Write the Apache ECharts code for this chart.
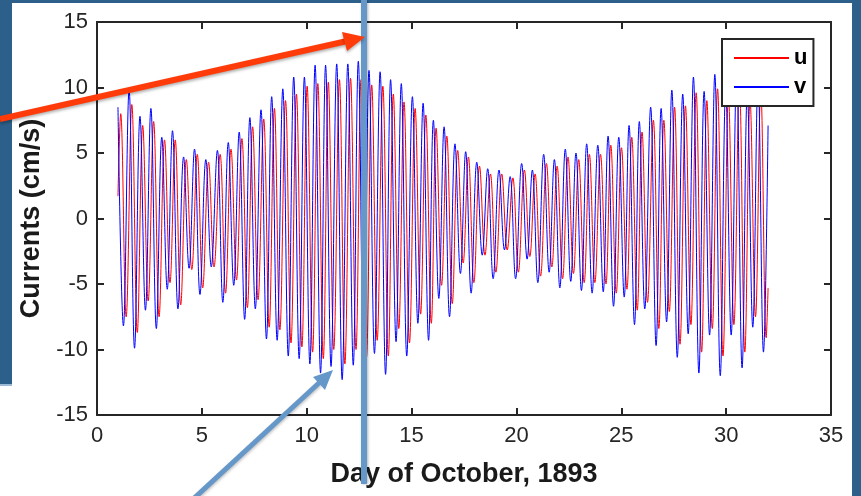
<!DOCTYPE html>
<html>
<head>
<meta charset="utf-8">
<title>Currents</title>
<script src="https://cdn.jsdelivr.net/npm/echarts@6/dist/echarts.min.js"></script>
<style>
	html, body { margin: 0; padding: 0; background: #fff; }
	#chart { width: 861px; height: 496px; }
</style>
</head>
<body>
<div id="chart"></div>
<script>
// axis ticks
var xTicks = [0, 5, 10, 15, 20, 25, 30, 35];
var yTicks = [-15, -10, -5, 0, 5, 10, 15];

// day of each v high water
var vPeakDay = [1.00, 1.53, 2.05, 2.57, 3.09, 3.60, 4.13, 4.65, 5.19, 5.74,
	6.26, 6.78, 7.29, 7.82, 8.33, 8.86, 9.38, 9.89, 10.40,
	10.90, 11.43, 11.96, 12.46, 12.97, 13.50, 14.00, 14.51, 15.04, 15.55,
	16.04, 16.55, 17.07, 17.58, 18.11, 18.63, 19.17, 19.70, 20.25, 20.76,
	21.30, 21.81, 22.33, 22.84, 23.35, 23.88, 24.37, 24.88, 25.37, 25.86,
	26.40, 26.90, 27.41, 27.93, 28.44, 28.95, 29.46, 29.98, 30.50, 31.01, 31.52];

// v (blue) highs and lows, one per tidal cycle
var vPeak = [8.5, 9.8, 7.8, 8.4, 6.2, 6.7, 4.7, 5.3, 4.5, 5.2,
	5.8, 6.6, 7.7, 8.3, 9.3, 9.9, 10.8, 10.8, 11.7,
	11.7, 11.8, 11.8, 12.0, 11.3, 11.2, 10.6, 10.3, 9.3, 8.8,
	7.5, 7.0, 5.7, 5.1, 4.3, 3.8, 3.7, 3.2, 4.2, 3.7,
	4.9, 4.5, 5.3, 5.0, 5.7, 5.6, 6.3, 6.2, 7.1, 7.4,
	8.5, 8.4, 9.8, 9.5, 10.8, 9.7, 11.0, 9.8, 11.2, 9.6, 10.6];
var vTrough = [-8.2, -9.9, -7.0, -8.4, -5.4, -6.9, -3.8, -5.8, -3.7, -6.4,
	-5.1, -7.7, -6.9, -9.2, -9.3, -10.5, -10.7, -11.1, -11.8,
	-11.3, -12.3, -11.2, -11.6, -10.3, -11.9, -9.4, -10.5, -8.0, -9.3,
	-6.1, -7.5, -4.2, -5.7, -2.8, -4.6, -2.4, -4.6, -3.1, -4.9,
	-4.1, -5.3, -4.8, -5.5, -5.7, -5.6, -6.7, -6.0, -8.1, -6.9,
	-9.7, -7.9, -10.6, -8.8, -11.8, -8.9, -12.0, -8.9, -11.4, -8.3, -10.2];

// u (red) highs and lows
var uPeak = [8.0, 8.7, 7.1, 7.4, 6.0, 6.0, 4.5, 4.9, 4.3, 4.9,
	5.3, 6.1, 7.0, 7.6, 8.4, 9.0, 9.5, 10.1, 10.3,
	10.4, 10.6, 10.7, 10.6, 10.2, 10.1, 9.5, 8.9, 8.4, 7.9,
	6.9, 6.3, 5.2, 4.7, 4.0, 3.4, 3.4, 3.1, 3.7, 3.4,
	4.2, 4.0, 4.7, 4.5, 4.9, 4.9, 5.6, 5.4, 6.2, 6.6,
	7.5, 7.5, 8.5, 8.6, 9.6, 9.0, 9.9, 9.3, 10.3, 9.0, 9.8];
var uTrough = [-7.5, -8.7, -6.3, -7.5, -4.9, -6.6, -3.9, -5.3, -3.7, -5.7,
	-4.7, -6.8, -6.2, -8.3, -8.5, -9.5, -9.8, -10.2, -10.7,
	-10.0, -11.1, -10.0, -10.6, -9.3, -10.5, -8.4, -9.5, -7.3, -8.0,
	-5.1, -6.5, -3.4, -4.9, -2.8, -4.1, -2.4, -4.1, -2.9, -4.4,
	-3.7, -4.6, -4.2, -4.9, -4.9, -5.0, -5.7, -5.4, -7.0, -6.4,
	-8.4, -7.1, -9.6, -8.1, -10.2, -8.4, -10.5, -8.1, -10.2, -7.5, -9.1];

// first / last samples
var uStart = [1.0, 1.7], uEnd = [32.0, -5.3];
var vEnd = [32.0, 7.1];

// time from high to low, and u behind v (days)
var halfCycle = 0.26;
var uLag = 0.13;

var uData = [uStart], vData = [];
for (var i = 0; i < vPeakDay.length; i++) {
	vData.push([vPeakDay[i], vPeak[i]]);
	vData.push([vPeakDay[i] + halfCycle, vTrough[i]]);
	uData.push([vPeakDay[i] + uLag, uPeak[i]]);
	uData.push([vPeakDay[i] + uLag + halfCycle, uTrough[i]]);
}
vData.push(vEnd);
uData.push(uEnd);

var dom = document.getElementById('chart');
var myChart = echarts.init(dom);

var axisColor = '#262626';
var slideBlue = '#2c5f8a';
var pointerBlue = '#6697c9';

// box style axis (ticks inside, all four sides)
var boxAxis = {
	type: 'value',
	axisLine: { show: true, onZero: false, lineStyle: { color: axisColor, width: 2 } },
	axisTick: { show: true, inside: true, length: 7, lineStyle: { color: axisColor, width: 2 } },
	axisLabel: { show: false },
	splitLine: { show: false }
};
var titleFont = { fontFamily: 'Liberation Sans', fontWeight: 'bold', fontSize: 27, color: '#1a1a1a' };
var labelFont = { fontFamily: 'Liberation Sans', fontSize: 22, color: axisColor };

var option = {
	backgroundColor: '#fff',
	animation: false,
	grid: { left: 97, right: 30, top: 22, bottom: 81 },
	xAxis: [
		Object.assign({}, boxAxis, {
			min: xTicks[0], max: xTicks[xTicks.length - 1], interval: 5,
			position: 'bottom',
			name: 'Day of October, 1893',
			nameLocation: 'middle',
			nameGap: 46,
			nameTextStyle: titleFont,
			axisLabel: Object.assign({ show: true, margin: 10 }, labelFont)
		}),
		Object.assign({}, boxAxis, {
			min: xTicks[0], max: xTicks[xTicks.length - 1], interval: 5,
			position: 'top'
		})
	],
	yAxis: [
		Object.assign({}, boxAxis, {
			min: yTicks[0], max: yTicks[yTicks.length - 1], interval: 5,
			position: 'left',
			name: 'Currents (cm/s)',
			nameLocation: 'middle',
			nameGap: 47,
			nameTextStyle: titleFont,
			axisLabel: Object.assign({ show: true, margin: 9 }, labelFont)
		}),
		Object.assign({}, boxAxis, {
			min: yTicks[0], max: yTicks[yTicks.length - 1], interval: 5,
			position: 'right'
		})
	],
	legend: {
		orient: 'vertical',
		left: 722,
		top: 39,
		backgroundColor: '#fff',
		borderColor: axisColor,
		borderWidth: 2,
		borderRadius: 0,
		padding: [8, 6, 8, 11],
		itemWidth: 55,
		itemHeight: 14,
		itemGap: 7,
		itemStyle: { opacity: 0 },
		textStyle: { fontFamily: 'Liberation Sans', fontWeight: 'bold', fontSize: 22, color: '#000' },
		data: ['u', 'v']
	},
	series: [
		{
			name: 'u',
			type: 'line',
			data: uData,
			symbol: 'none',
			smooth: 0.4,
			lineStyle: { color: '#ff0000', width: 1 },
			itemStyle: { color: '#ff0000' }
		},
		{
			name: 'v',
			type: 'line',
			data: vData,
			symbol: 'none',
			smooth: 0.4,
			lineStyle: { color: '#0000ff', width: 1 },
			itemStyle: { color: '#0000ff' }
		}
	],
	// slide background and pointers drawn over the figure
	graphic: [
		{ type: 'rect', z: 50, shape: { x: 0, y: 0, width: 861, height: 3 }, style: { fill: slideBlue } },
		{ type: 'rect', z: 50, shape: { x: 0, y: 0, width: 12, height: 384 }, style: { fill: slideBlue } },
		{ type: 'rect', z: 50, shape: { x: 0, y: 384, width: 12, height: 2 }, style: { fill: '#9dbad6' } },
		{ type: 'rect', z: 50, shape: { x: 852, y: 0, width: 9, height: 496 }, style: { fill: slideBlue } },
		{
			type: 'line', z: 60,
			shape: { x1: 364, y1: 0, x2: 364, y2: 484 },
			style: { stroke: pointerBlue, lineWidth: 6, shadowBlur: 3, shadowColor: 'rgba(0,0,0,0.3)', shadowOffsetX: 1 }
		},
		{
			type: 'line', z: 61,
			shape: { x1: 0, y1: 119, x2: 345, y2: 41.5 },
			style: { stroke: '#ff3b0a', lineWidth: 6, shadowBlur: 3, shadowColor: 'rgba(0,0,0,0.3)', shadowOffsetY: 2 }
		},
		{
			type: 'polygon', z: 61,
			shape: { points: [[365, 37], [347, 51], [342, 32]] },
			style: { fill: '#ff3b0a', shadowBlur: 3, shadowColor: 'rgba(0,0,0,0.3)', shadowOffsetY: 2 }
		},
		{
			type: 'line', z: 61,
			shape: { x1: 190, y1: 502, x2: 320, y2: 382 },
			style: { stroke: pointerBlue, lineWidth: 5, shadowBlur: 3, shadowColor: 'rgba(0,0,0,0.25)', shadowOffsetY: 2 }
		},
		{
			type: 'polygon', z: 61,
			shape: { points: [[333, 370], [325, 390], [313, 377]] },
			style: { fill: pointerBlue }
		}
	]
};

if (option && typeof option === 'object') {
	myChart.setOption(option, true);
}
</script>
</body>
</html>
